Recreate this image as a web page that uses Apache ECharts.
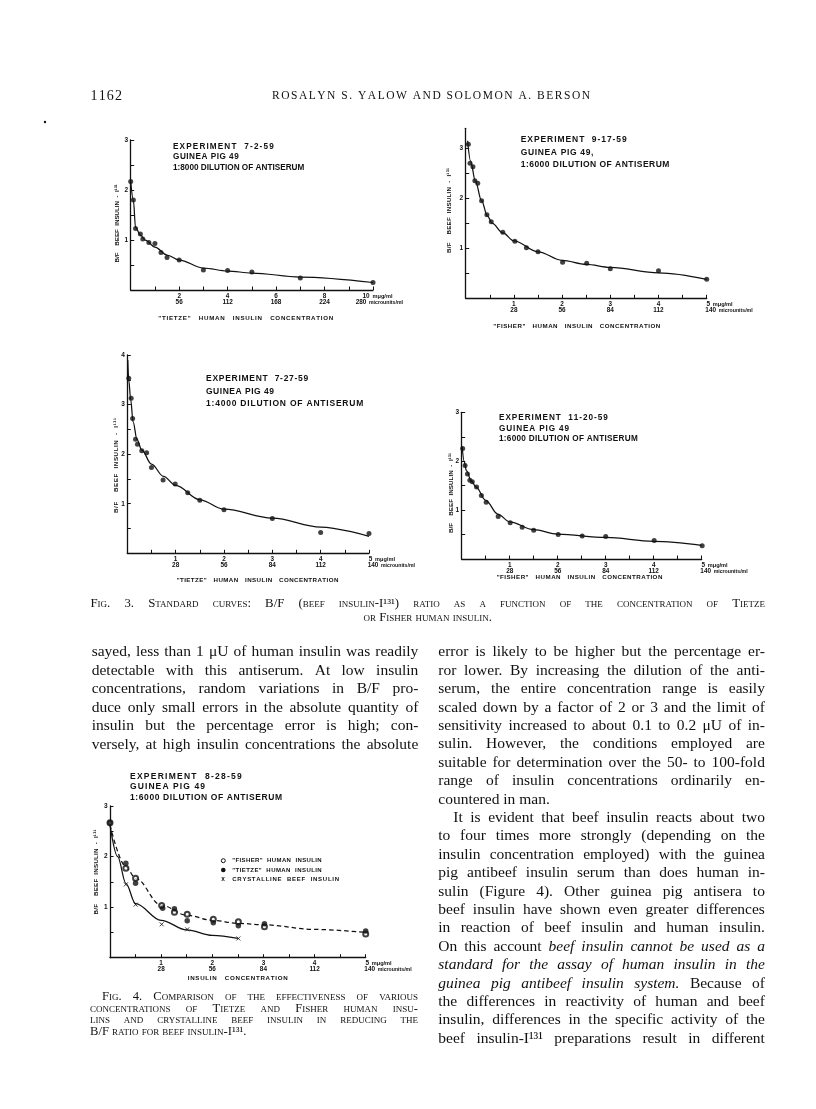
<!DOCTYPE html>
<html lang="en">
<head>
  <meta charset="UTF-8">
  <title>Yalow &amp; Berson, p. 1162 - Figs. 3 and 4</title>
  <script src="https://cdn.jsdelivr.net/npm/echarts@6.0.0/dist/echarts.min.js"></script>
  <style>
    html, body { margin: 0; padding: 0; background: #fff; }
    #page { width: 816px; height: 1109px; }
  </style>
</head>
<body>
  <div id="page"></div>
  <script>
    // ---- values: x = mμg/ml, y = B/F ----
    // Fig. 3, experiment 7-2-59 (Tietze, 1:8000)
    const exp1Points = [[0, 2.17], [0.11, 1.8], [0.2, 1.23], [0.4, 1.12], [0.5, 1.02], [0.75, 0.95], [1, 0.93],
      [1.25, 0.75], [1.5, 0.65], [2, 0.6], [3, 0.4], [4, 0.39], [5, 0.36], [7, 0.24], [10, 0.15]];
    const exp1Curve = [[0, 2.17], [0.11, 1.8], [0.2, 1.25], [0.4, 1.1], [0.6, 1.0], [1, 0.86], [1.5, 0.7],
      [2, 0.6], [3, 0.44], [4, 0.38], [5, 0.34], [7, 0.26], [10, 0.15]];
    // experiment 9-17-59 (Fisher, 1:6000)
    const exp2Points = [[0.055, 3.08], [0.09, 2.7], [0.15, 2.63], [0.19, 2.35], [0.25, 2.3], [0.33, 1.95], [0.44, 1.67],
      [0.53, 1.53], [0.77, 1.32], [1.02, 1.14], [1.26, 1.01], [1.5, 0.93], [2.01, 0.72], [2.51, 0.7], [3, 0.59], [4, 0.55], [5, 0.38]];
    const exp2Curve = [[0.04, 3.15], [0.1, 2.75], [0.2, 2.35], [0.33, 1.95], [0.45, 1.65], [0.55, 1.5], [0.77, 1.31],
      [1, 1.15], [1.5, 0.93], [2, 0.76], [2.5, 0.68], [3, 0.62], [4, 0.51], [5, 0.38]];
    // experiment 7-27-59 (Tietze, 1:4000)
    const exp3Points = [[0.03, 3.53], [0.08, 3.13], [0.11, 2.72], [0.17, 2.3], [0.21, 2.2], [0.3, 2.07], [0.4, 2.03],
      [0.5, 1.73], [0.74, 1.48], [0.99, 1.4], [1.25, 1.22], [1.5, 1.07], [2, 0.88], [3, 0.7], [4, 0.42], [5, 0.4]];
    const exp3Curve = [[0.01, 3.9], [0.03, 3.5], [0.07, 3.1], [0.12, 2.65], [0.2, 2.3], [0.3, 2.08], [0.5, 1.8],
      [0.75, 1.55], [1, 1.37], [1.5, 1.08], [2, 0.89], [3, 0.71], [4, 0.53], [5, 0.34]];
    // experiment 11-20-59 (Fisher, 1:6000)
    const exp4Points = [[0.02, 2.26], [0.07, 1.91], [0.12, 1.74], [0.17, 1.61], [0.22, 1.58], [0.31, 1.47], [0.41, 1.3],
      [0.51, 1.16], [0.76, 0.87], [1.01, 0.74], [1.26, 0.65], [1.5, 0.59], [2.01, 0.5], [2.51, 0.47], [3, 0.46], [4.01, 0.38], [5.01, 0.27]];
    const exp4Curve = [[0.01, 2.3], [0.05, 2.0], [0.1, 1.8], [0.2, 1.6], [0.3, 1.47], [0.5, 1.2], [0.75, 0.92],
      [1, 0.76], [1.5, 0.6], [2, 0.51], [3, 0.44], [4, 0.36], [5, 0.28]];
    // Fig. 4, experiment 8-28-59
    const fisherPoints = [[0, 2.67], [0.31, 1.77], [0.5, 1.57], [1.01, 1.03], [1.26, 0.9], [1.51, 0.86], [2.02, 0.76], [2.51, 0.71], [3.02, 0.61], [5, 0.47]];
    const tietzePoints = [[0, 2.67], [0.31, 1.87], [0.5, 1.47], [1.03, 0.98], [1.26, 0.97], [1.51, 0.73], [2.02, 0.69], [2.51, 0.63], [3.02, 0.67], [5, 0.53]];
    const beefPoints = [[0.31, 1.45], [0.5, 1.05], [1.01, 0.66], [1.51, 0.56], [2.51, 0.38]];
    const humanCurve = [[0, 2.62], [0.31, 1.8], [0.5, 1.57], [1, 1.04], [1.5, 0.84], [2, 0.74], [2.5, 0.68], [3, 0.65], [4, 0.56], [5, 0.5]];
    const beefCurve = [[0, 2.62], [0.15, 2.0], [0.31, 1.47], [0.5, 1.07], [1, 0.74], [1.5, 0.55], [2, 0.44], [2.5, 0.38]];

    // tick labels
    const mugLabels10 = ['2', '4', '6', '8', '10'];
    const microLabels10 = ['56', '112', '168', '224', '280'];
    const mugLabels5 = ['1', '2', '3', '4', '5'];
    const microLabels5 = ['28', '56', '84', '112', '140'];
    const unitLabels = ['mμg/ml', 'microunits/ml'];
    const yLabels3 = [1, 2, 3];
    const yLabels4 = [1, 2, 3, 4];

    // lettering on the figures
    const expTitles = [
      ['EXPERIMENT  7-2-59', 'GUINEA PIG 49', '1:8000 DILUTION OF ANTISERUM'],
      ['EXPERIMENT  9-17-59', 'GUINEA PIG 49,', '1:6000 DILUTION OF ANTISERUM'],
      ['EXPERIMENT  7-27-59', 'GUINEA PIG 49', '1:4000 DILUTION OF ANTISERUM'],
      ['EXPERIMENT  11-20-59', 'GUINEA PIG 49', '1:6000 DILUTION OF ANTISERUM'],
      ['EXPERIMENT  8-28-59', 'GUINEA PIG 49', '1:6000 DILUTION OF ANTISERUM']
    ];
    const xNames = ['"TIETZE"   HUMAN   INSULIN   CONCENTRATION', '"FISHER"   HUMAN   INSULIN   CONCENTRATION',
      '"TIETZE"   HUMAN   INSULIN   CONCENTRATION', '"FISHER"   HUMAN   INSULIN   CONCENTRATION', 'INSULIN   CONCENTRATION'];
    const yName = 'B/F    BEEF  INSULIN  -  I¹³¹';
    const fig4Names = ['"FISHER"  HUMAN  INSULIN', '"TIETZE"  HUMAN  INSULIN', 'CRYSTALLINE  BEEF  INSULIN'];

    // page text
    const runningHead = ['1162', 'ROSALYN S. YALOW AND SOLOMON A. BERSON'];
    const fig3Caption = ['Fig. 3. Standard curves: B/F (beef insulin-I¹³¹) ratio as a function of the concentration of Tietze',
      'or Fisher human insulin.'];
    const fig4Caption = ['Fig. 4. Comparison of the effectiveness of various', 'concentrations of Tietze and Fisher human insu-',
      'lins and crystalline beef insulin in reducing the', 'B/F ratio for beef insulin-I¹³¹.'];
    const leftColumn = [
      'sayed, less than 1 μU of human insulin was readily',
      'detectable with this antiserum. At low insulin',
      'concentrations, random variations in B/F pro-',
      'duce only small errors in the absolute quantity of',
      'insulin but the percentage error is high; con-',
      'versely, at high insulin concentrations the absolute'
    ];
    const rightColumn = [
      'error is likely to be higher but the percentage er-',
      'ror lower. By increasing the dilution of the anti-',
      'serum, the entire concentration range is easily',
      'scaled down by a factor of 2 or 3 and the limit of',
      'sensitivity increased to about 0.1 to 0.2 μU of in-',
      'sulin. However, the conditions employed are',
      'suitable for determination over the 50- to 100-fold',
      'range of insulin concentrations ordinarily en-',
      'countered in man.',
      'It is evident that beef insulin reacts about two',
      'to four times more strongly (depending on the',
      'insulin concentration employed) with the guinea',
      'pig antibeef insulin serum than does human in-',
      'sulin (Figure 4). Other guinea pig antisera to',
      'beef insulin have shown even greater differences',
      'in reaction of beef insulin and human insulin.',
      'On this account *beef insulin cannot be used as a*',
      '*standard for the assay of human insulin in the*',
      '*guinea pig antibeef insulin system.* Because of',
      'the differences in reactivity of human and beef',
      'insulin, differences in the specific activity of the',
      'beef insulin-I¹³¹ preparations result in different'
    ];

    // ---- styling / layout ----
    const INK = '#111111';
    const SANS = '"Liberation Sans", Arial, sans-serif';
    const SERIF = '"Liberation Serif", "Times New Roman", serif';

    const grids = [
      { left: 130.7, top: 140, width: 242.3, height: 150 },
      { left: 465.7, top: 128.3, width: 241, height: 170 },
      { left: 127.3, top: 355, width: 241.7, height: 198.3 },
      { left: 461.7, top: 412.3, width: 240, height: 146.7 },
      { left: 110, top: 806, width: 255.7, height: 151.7 }
    ];
    const xMax = [10, 5, 5, 5, 5];
    const yMax = [3, 3.4, 4, 3, 3];
    // where the header block of each panel sits: left x, line centres, run widths
    const titleBoxes = [
      { x: 173, y: [147, 157, 167.3], w: [100.7, 65.7, 131.3], size: 8.2 },
      { x: 520.7, y: [140, 152.3, 165], w: [106, 72.7, 148.7], size: 8.5 },
      { x: 206, y: [379, 391.7, 403.3], w: [102.3, 68, 157.3], size: 8.5 },
      { x: 499, y: [417.7, 428.3, 439], w: [108.7, 70, 138.7], size: 8.2 },
      { x: 130, y: [776.7, 787, 797.3], w: [111.7, 75, 152], size: 8.5 }
    ];
    const xNameBoxes = [[245.8, 318, 175], [576.7, 326.7, 167], [257.5, 580, 161.7], [579.5, 577.7, 165.7], [237.7, 978.3, 100]];
    const yNameBoxes = [[117, 223.3, 73.3], [449.3, 210.5, 85], [116.7, 465.5, 95], [451, 493, 80], [96, 872, 85]];
    // last tick label: padding [row1 left, row1 right, row2 left, row2 right], unit x offsets from the tick
    const lastPad = [[0, 14, 0, 24], [3, 0, 8, 0], [3, 0, 8, 0], [3, 0, 8, 0], [3, 0, 8, 0]];
    const unitOffset = [[-2, -5.5], [4.5, 10.5], [4.5, 10.5], [4.5, 10.5], [4.5, 10.5]];

    const mctx = document.createElement('canvas').getContext('2d');
    function measure(s, font) { mctx.font = font; return mctx.measureText(s).width; }

    function textEl(t, font, x, y) {
      return {
        type: 'text', x: x, y: y, silent: true,
        style: { text: t, font: font, fill: INK, textAlign: 'left', textVerticalAlign: 'middle', align: 'left', verticalAlign: 'middle' }
      };
    }

    // glyphs spaced out evenly over a given run width (hand lettering is tracked)
    function spread(str, font, width) {
      const chars = Array.from(str);
      const ws = chars.map(c => measure(c, font));
      const total = ws.reduce((a, b) => a + b, 0);
      const gap = chars.length > 1 ? Math.max(0, (width - total) / (chars.length - 1)) : 0;
      const kids = [];
      let x = 0;
      chars.forEach((c, i) => {
        if (c !== ' ') kids.push(textEl(c, font, x, 0));
        x += ws[i] + gap;
      });
      return { children: kids, width: Math.max(width, total) };
    }

    function lettered(str, font, x, y, width, how) {
      const run = spread(str, font, width);
      if (how === 'center') return { type: 'group', x: x - run.width / 2, y: y, children: run.children };
      if (how === 'up') return { type: 'group', x: x, y: y + run.width / 2, rotation: Math.PI / 2, children: run.children };
      return { type: 'group', x: x, y: y, children: run.children };
    }

    // justified column, set word by word
    function setColumn(lines, o) {
      let italic = false;
      const parsed = lines.map(line => line.split(' ').filter(Boolean).map(raw => {
        let t = raw;
        if (t[0] === '*') { italic = true; t = t.slice(1); }
        const it = italic;
        if (t.endsWith('*')) { italic = false; t = t.slice(0, -1); }
        return { t: t, it: it };
      }));
      const fontOf = (it, size) => (it ? 'italic ' : '') + (o.caps ? 'small-caps ' : '') + size + 'px ' + SERIF;
      const ragged = o.ragged || [], centered = o.centered || [], indent = o.indent || {};
      const justified = i => !ragged.includes(i) && !centered.includes(i);
      const avail = i => o.width - (indent[i] || 0);
      const natural = (ws, size) => ws.reduce((s, w) => s + measure(w.t, fontOf(w.it, size)), 0) +
        (ws.length - 1) * measure(' ', fontOf(false, size)) * 0.75;
      let size = o.size;
      while (size > 6 && parsed.some((ws, i) => justified(i) && natural(ws, size) > avail(i))) size -= 0.1;
      size = Math.round(size * 10) / 10;
      const els = [];
      parsed.forEach((ws, i) => {
        const widths = ws.map(w => measure(w.t, fontOf(w.it, size)));
        const sum = widths.reduce((a, b) => a + b, 0);
        const space = measure(' ', fontOf(false, size));
        let x = o.x + (indent[i] || 0);
        let gap = space;
        if (justified(i) && ws.length > 1) gap = (avail(i) - sum) / (ws.length - 1);
        if (centered.includes(i)) x = o.x + (o.width - sum - space * (ws.length - 1)) / 2;
        const y = o.y + i * o.lh;
        ws.forEach((w, k) => {
          els.push(textEl(w.t, fontOf(w.it, size), x, y));
          x += widths[k] + gap;
        });
      });
      return els;
    }

    // ---- axes ----
    function xAxisFor(i) {
      const top = i === 0 ? mugLabels10 : mugLabels5;
      const bottom = i === 0 ? microLabels10 : microLabels5;
      const at = top.map(Number);
      const ticks = [];
      const step = i === 0 ? 1 : 0.5;
      for (let v = step; v <= xMax[i] + 1e-9; v += step) ticks.push(Math.round(v * 10) / 10);
      const pad = lastPad[i];
      const num = { fontSize: 6.4, lineHeight: 6, fontFamily: SANS, fontWeight: 'bold', color: INK };
      return {
        type: 'value', gridIndex: i, min: 0, max: xMax[i],
        axisLine: { show: true, onZero: false, lineStyle: { color: INK, width: 1.3 } },
        axisTick: { show: true, inside: true, length: 3.5, customValues: ticks, lineStyle: { color: INK, width: 1 } },
        splitLine: { show: false },
        axisLabel: {
          show: true, margin: 3, customValues: at, color: INK,
          showMaxLabel: true, showMinLabel: true, hideOverlap: false,
          formatter: function (v) {
            const k = at.indexOf(v);
            if (k < 0) return '';
            if (k === at.length - 1) return '{a|' + top[k] + '}\n{b|' + bottom[k] + '}';
            return '{n|' + top[k] + '}\n{n|' + bottom[k] + '}';
          },
          rich: {
            n: num,
            a: Object.assign({ padding: [0, pad[1], 0, pad[0]] }, num),
            b: Object.assign({ padding: [0, pad[3], 0, pad[2]] }, num)
          }
        }
      };
    }

    function yAxisFor(i) {
      const ticks = [];
      for (let v = 0.5; v <= Math.floor(yMax[i]) + 1e-9; v += 0.5) ticks.push(v);
      return {
        type: 'value', gridIndex: i, min: 0, max: yMax[i],
        axisLine: { show: true, onZero: false, lineStyle: { color: INK, width: 1.3 } },
        axisTick: { show: true, inside: true, length: 3.5, customValues: ticks, lineStyle: { color: INK, width: 1 } },
        splitLine: { show: false },
        axisLabel: {
          show: true, margin: 2.5, customValues: i === 2 ? yLabels4 : yLabels3,
          fontSize: 6.5, fontFamily: SANS, fontWeight: 'bold', color: INK
        }
      };
    }

    // ---- series ----
    function curve(data, i, dashed) {
      return {
        type: 'line', xAxisIndex: i, yAxisIndex: i, data: data, smooth: 0.35, smoothMonotone: 'x',
        symbol: 'none', showSymbol: false, clip: false, silent: true, z: 2,
        lineStyle: { color: INK, width: 1.25, type: dashed ? [4.5, 3] : 'solid' }
      };
    }
    function dots(data, i, symbol, size, style, name) {
      return {
        type: 'scatter', name: name, xAxisIndex: i, yAxisIndex: i, data: data, symbol: symbol, symbolSize: size,
        clip: false, silent: true, z: 3, itemStyle: style || { color: INK }
      };
    }
    const series = [
      curve(exp1Curve, 0), dots(exp1Points, 0, 'circle', 5),
      curve(exp2Curve, 1), dots(exp2Points, 1, 'circle', 5),
      curve(exp3Curve, 2), dots(exp3Points, 2, 'circle', 5),
      curve(exp4Curve, 3), dots(exp4Points, 3, 'circle', 5),
      curve(humanCurve, 4, true), curve(beefCurve, 4),
      dots(fisherPoints, 4, 'emptyCircle', 5, { color: INK, borderColor: INK, borderWidth: 1 }, fig4Names[0]),
      dots(tietzePoints, 4, 'circle', 5.5, null, fig4Names[1]),
      dots(beefPoints, 4, 'path://M0,0L10,10M10,0L0,10', 4, { color: 'transparent', borderColor: INK, borderWidth: 1 }, fig4Names[2])
    ];

    // ---- lettering, captions and body text ----
    const graphics = [];
    const letterFont = size => 'bold ' + size + 'px ' + SANS;
    titleBoxes.forEach((b, i) => {
      expTitles[i].forEach((line, k) => graphics.push(lettered(line, letterFont(b.size), b.x, b.y[k], b.w[k])));
    });
    xNameBoxes.forEach((b, i) => graphics.push(lettered(xNames[i], letterFont(6.2), b[0], b[1], b[2], 'center')));
    yNameBoxes.forEach(b => graphics.push(lettered(yName, letterFont(6.2), b[0], b[1], b[2], 'up')));

    // fig. 4 key
    graphics.push({ type: 'circle', silent: true, shape: { cx: 223.3, cy: 860.7, r: 2 }, style: { fill: '#fff', stroke: INK, lineWidth: 1 } });
    graphics.push({ type: 'circle', silent: true, shape: { cx: 223.3, cy: 870, r: 2.3 }, style: { fill: INK } });
    graphics.push(textEl('x', letterFont(6.5), 221.3, 879));
    [[860.7, 89.4], [870, 89.4], [879.3, 106.7]].forEach((r, k) => graphics.push(lettered(fig4Names[k], letterFont(6), 232.3, r[0], r[1])));

    // running head
    graphics.push(lettered(runningHead[0], '14px ' + SERIF, 90.5, 96, 31.5));
    graphics.push(lettered(runningHead[1], '11.5px ' + SERIF, 272, 96, 318));
    // speck on the scan
    graphics.push({ type: 'circle', silent: true, shape: { cx: 45, cy: 122, r: 1.2 }, style: { fill: INK } });

    graphics.push(...setColumn(fig3Caption, { x: 90.5, y: 604, width: 674.5, lh: 13.5, size: 12.8, caps: true, centered: [1] }));
    graphics.push(...setColumn(fig4Caption, { x: 90, y: 997, width: 328, lh: 11.4, size: 12.6, caps: true, indent: { 0: 12 }, ragged: [3] }));
    graphics.push(...setColumn(leftColumn, { x: 91.7, y: 652.3, width: 326.6, lh: 18.45, size: 15.5 }));
    graphics.push(...setColumn(rightColumn, { x: 438.3, y: 652.3, width: 326.6, lh: 18.4, size: 15.5, ragged: [8], indent: { 9: 15 } }));

    const page = echarts.init(document.getElementById('page'));
    page.setOption({
      backgroundColor: '#ffffff',
      animation: false,
      grid: grids.map(g => Object.assign({ containLabel: false, outerBoundsMode: 'none' }, g)),
      xAxis: grids.map((g, i) => xAxisFor(i)),
      yAxis: grids.map((g, i) => yAxisFor(i)),
      series: series,
      graphic: { elements: graphics }
    });

    // units after the last tick label of each x axis, placed from the axis scale
    grids.forEach((g, i) => {
      const tx = page.convertToPixel({ xAxisIndex: i }, xMax[i]);
      const ty = page.convertToPixel({ yAxisIndex: i }, 0);
      graphics.push(textEl(' ' + unitLabels[0], letterFont(5.6), tx + unitOffset[i][0], ty + 6.2));
      graphics.push(textEl(' ' + unitLabels[1], letterFont(5.2), tx + unitOffset[i][1], ty + 12.2));
    });
    page.setOption({ graphic: { elements: graphics } });

    window.addEventListener('resize', function () { page.resize(); });
  </script>
</body>
</html>
